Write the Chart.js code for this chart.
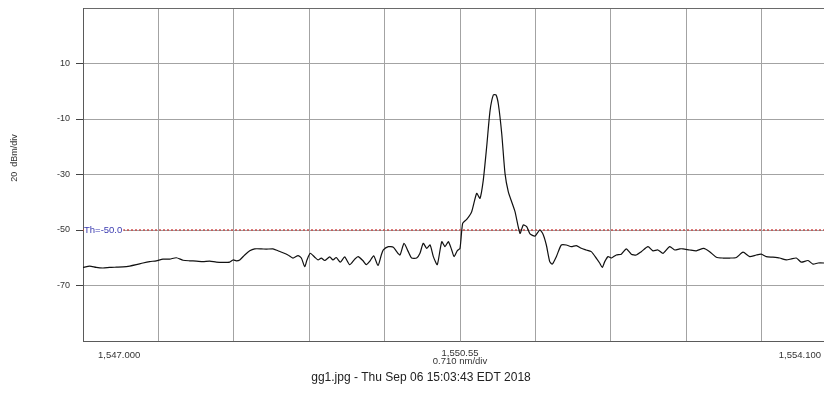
<!DOCTYPE html>
<html>
<head>
<meta charset="utf-8">
<title>gg1</title>
<script src="https://cdn.jsdelivr.net/npm/chart.js@4.4.1/dist/chart.umd.min.js"></script>
<style>
  html, body { margin: 0; padding: 0; background: #fff; overflow: hidden; }
  #wrap { position: relative; width: 838px; height: 398px; }
</style>
</head>
<body>
<div id="wrap"><canvas id="osa-chart"></canvas></div>
<script>

// data ========================================================================

const wavelengths = [
  1547.000, 1547.063, 1547.125, 1547.188, 1547.251, 1547.314, 1547.377, 1547.440, 1547.502, 1547.565,
  1547.628, 1547.690, 1547.753, 1547.816, 1547.879, 1547.942, 1548.005, 1548.067, 1548.130, 1548.193,
  1548.255, 1548.318, 1548.381,
  1548.413, 1548.444, 1548.476, 1548.523, 1548.570, 1548.617, 1548.679, 1548.726, 1548.789, 1548.836,
  1548.883, 1548.930, 1548.977, 1549.025, 1549.056, 1549.088, 1549.109, 1549.140, 1549.182, 1549.213,
  1549.244, 1549.276, 1549.323, 1549.354, 1549.385, 1549.423, 1549.464, 1549.511, 1549.559, 1549.590,
  1549.637, 1549.668, 1549.700, 1549.737, 1549.778, 1549.809,
  1549.828, 1549.875, 1549.922, 1549.954, 1549.985, 1550.023, 1550.063, 1550.095, 1550.142, 1550.173,
  1550.204, 1550.236, 1550.268, 1550.299, 1550.336, 1550.378, 1550.409, 1550.440, 1550.472, 1550.494,
  1550.525, 1550.550, 1550.575, 1550.613, 1550.660, 1550.707, 1550.738, 1550.769, 1550.801, 1550.833,
  1550.864, 1550.889, 1550.911, 1550.943, 1550.974, 1551.005, 1551.037, 1551.068, 1551.115, 1551.146,
  1551.178, 1551.209, 1551.256,
  1551.301, 1551.332, 1551.363, 1551.395, 1551.419, 1551.457, 1551.504, 1551.551, 1551.598, 1551.645,
  1551.692, 1551.739, 1551.786, 1551.833, 1551.865, 1551.890, 1551.913, 1551.944, 1551.975, 1552.022,
  1552.069, 1552.116, 1552.163, 1552.210, 1552.257, 1552.320, 1552.367, 1552.414, 1552.462, 1552.525,
  1552.572, 1552.619,
  1552.650, 1552.713, 1552.775, 1552.845, 1552.901, 1552.964, 1553.027, 1553.090, 1553.152, 1553.215,
  1553.278, 1553.340, 1553.387, 1553.434, 1553.497, 1553.560, 1553.623, 1553.670, 1553.717, 1553.764,
  1553.827, 1553.874, 1553.921, 1553.978, 1554.034, 1554.100
];

const powers = [
  -63.5, -63.0, -63.5, -63.7, -63.5, -63.4, -63.3, -63.0, -62.5, -61.9,
  -61.4, -61.1, -60.5, -60.5, -60.0, -60.9, -61.1, -61.2, -61.4, -61.2,
  -61.6, -61.7, -61.6,
  -60.8, -61.1, -60.8, -59.0, -57.5, -56.8, -56.8, -56.9, -56.8, -57.5,
  -58.2, -59.0, -60.1, -59.2, -60.1, -63.2, -60.8, -58.4, -59.8, -60.8,
  -60.1, -61.0, -59.7, -60.8, -59.9, -61.6, -59.7, -62.5, -60.5, -59.6,
  -61.1, -62.5, -61.3, -59.3, -62.8, -59.0,
  -57.2, -56.0, -56.2, -57.8, -59.0, -54.8, -57.8, -60.1, -60.1, -58.4,
  -54.8, -56.6, -55.4, -59.6, -62.5, -54.2, -56.0, -54.2, -57.2, -59.6,
  -57.4, -56.6, -47.6, -46.2, -43.4, -36.8, -38.6, -32.1, -20.1, -7.0,
  -1.3, -1.3, -4.6, -15.3, -29.7, -36.3, -39.9, -43.4, -51.2, -48.2,
  -48.8, -51.4, -52.2,
  -50.0, -51.5, -55.4, -61.4, -62.3, -59.6, -55.4, -55.4, -56.0, -55.6,
  -56.6, -57.2, -57.8, -60.1, -61.9, -63.5, -61.4, -59.6, -60.1, -59.0,
  -58.7, -56.8, -58.7, -59.0, -57.8, -56.0, -57.5, -57.2, -58.4, -56.0,
  -57.2, -56.8,
  -56.8, -57.2, -57.5, -56.6, -57.8, -59.8, -60.1, -60.1, -59.9, -58.0,
  -59.6, -59.0, -58.7, -59.6, -59.8, -60.1, -60.8, -60.4, -60.1, -61.6,
  -61.0, -62.3, -61.9, -61.9, -62.0, -61.8
];

const threshold = -50.0;
const thresholdLabel = 'Th=-50.0';

// 0.710 nm/div, 10 divisions
const xGridValues = [1547.00, 1547.71, 1548.42, 1549.13, 1549.84, 1550.55, 1551.26, 1551.97, 1552.68, 1553.39, 1554.10];
const xLabelValues = [1547.000, 1550.55, 1554.100];
const xLabelTexts = ['1,547.000', ['1,550.55', '0.710 nm/div'], '1,554.100'];

// 20 dBm/div
const yMin = -90;
const yMax = 30;
const yStep = 20;
const yTitle = '20  dBm/div';
const caption = 'gg1.jpg - Thu Sep 06 15:03:43 EDT 2018';

// chart =====================================================================

Chart.defaults.font.family = "'Liberation Sans', Arial, sans-serif";
Chart.defaults.font.size = 9;
Chart.defaults.color = '#333';

const trace = wavelengths.map((w, i) => ({ x: w, y: powers[i] }));
const thLine = [
  { x: xGridValues[0], y: threshold },
  { x: xGridValues[xGridValues.length - 1], y: threshold }
];

const textPlugin = {
  id: 'osaText',
  afterDraw(chart) {
    const { ctx, chartArea, scales: { x, y } } = chart;
    ctx.save();

    // threshold tag
    const ty = y.getPixelForValue(threshold);
    ctx.font = "9.5px 'Liberation Sans', Arial, sans-serif";
    const tw = ctx.measureText(thresholdLabel).width;
    ctx.fillStyle = '#fff';
    ctx.fillRect(chartArea.left + 1, ty - 4, tw + 1, 8);
    ctx.fillStyle = '#3a3ab0';
    ctx.textAlign = 'left';
    ctx.textBaseline = 'middle';
    ctx.fillText(thresholdLabel, chartArea.left + 1, ty);

    // y title
    ctx.fillStyle = '#333';
    ctx.font = "9px 'Liberation Sans', Arial, sans-serif";
    ctx.translate(15, chartArea.top + 150);
    ctx.rotate(-Math.PI / 2);
    ctx.textAlign = 'center';
    ctx.fillText(yTitle, 0, 0);
    ctx.setTransform(1, 0, 0, 1, 0, 0);

    // x labels
    ctx.font = "9.5px 'Liberation Sans', Arial, sans-serif";
    ctx.textBaseline = 'middle';
    const by = chartArea.bottom;
    ctx.textAlign = 'left';
    ctx.fillText(xLabelTexts[0], x.getPixelForValue(xLabelValues[0]) + 15, by + 14);
    ctx.textAlign = 'center';
    ctx.fillText(xLabelTexts[1][0], x.getPixelForValue(xLabelValues[1]), by + 12);
    ctx.fillText(xLabelTexts[1][1], x.getPixelForValue(xLabelValues[1]), by + 20);
    ctx.textAlign = 'right';
    ctx.fillText(xLabelTexts[2], x.getPixelForValue(xLabelValues[2]) - 16, by + 14);

    // caption
    ctx.font = "12px 'Liberation Sans', Arial, sans-serif";
    ctx.fillStyle = '#222';
    ctx.textAlign = 'center';
    ctx.fillText(caption, chart.width / 2 + 2, by + 37);

    ctx.restore();
  }
};

const osaChart = new Chart(document.getElementById('osa-chart'), {
  type: 'line',
  data: {
    datasets: [{
      data: trace,
      borderColor: '#111',
      borderWidth: 1.2,
      pointRadius: 0,
      tension: 0.2,
      fill: false
    }, {
      data: thLine,
      borderColor: '#c83a3a',
      borderWidth: 1.3,
      borderDash: [2, 2],
      pointRadius: 0,
      tension: 0,
      fill: false
    }]
  },
  options: {
    responsive: true,
    maintainAspectRatio: false,
    animation: false,
    layout: {
      padding: { top: 8, right: 1, bottom: 0, left: 0 }
    },
    plugins: {
      legend: { display: false },
      tooltip: { enabled: false }
    },
    scales: {
      x: {
        type: 'linear',
        min: xGridValues[0],
        max: xGridValues[xGridValues.length - 1],
        afterBuildTicks: scale => {
          scale.ticks = xGridValues.map(v => ({ value: v }));
        },
        afterFit: scale => {
          scale.height = 57;
          scale.paddingLeft = 0;
          scale.paddingRight = 0;
        },
        ticks: { display: false },
        grid: {
          color: '#a3a3a3',
          lineWidth: 1,
          drawTicks: false
        },
        border: { display: true, color: '#5a5a5a', width: 1 }
      },
      y: {
        min: yMin,
        max: yMax,
        afterFit: scale => {
          scale.width = 83;
          scale.paddingTop = 0;
          scale.paddingBottom = 0;
        },
        ticks: {
          stepSize: yStep,
          padding: 6,
          color: '#333',
          font: { size: 9 },
          callback: v => (v === yMin || v === yMax) ? '' : v
        },
        grid: {
          color: ctx => (ctx.tick && ctx.tick.value === yMax) ? '#6a6a6a' : '#a3a3a3',
          tickColor: ctx => (ctx.tick && (ctx.tick.value === yMax || ctx.tick.value === yMin)) ? 'rgba(0,0,0,0)' : '#444',
          lineWidth: 1,
          tickLength: 7
        },
        border: { display: true, color: '#5a5a5a', width: 1 }
      }
    }
  },
  plugins: [textPlugin]
});

</script>
</body>
</html>
